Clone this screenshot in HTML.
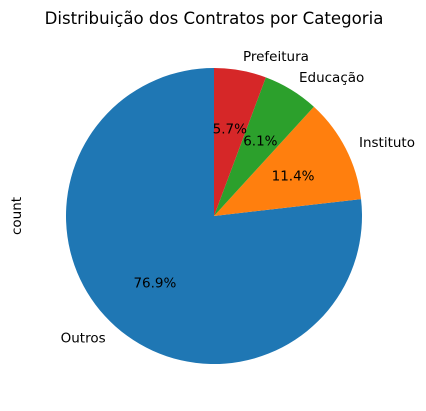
<!DOCTYPE html>
<html><head><meta charset="utf-8"><style>
body{margin:0;background:#fff}
svg{display:block;font-family:"DejaVu Sans","Liberation Sans",sans-serif}
</style></head><body>
<svg id="chart" width="426" height="411" viewBox="0 0 426 411">
<text x="214" y="24" text-anchor="middle" font-size="16.6" fill="#000">Distribuição dos Contratos por Categoria</text>
<text transform="translate(21,216) rotate(-90)" text-anchor="middle" font-size="13.5" fill="#000">count</text>
<g id="slices"></g>
</svg>
<script>
const categories = ["Outros", "Instituto", "Educação", "Prefeitura"];
const values = [76.9, 11.4, 6.1, 5.7];
const pctLabels = ["76.9%", "11.4%", "6.1%", "5.7%"];
const colors = ["#1f77b4", "#ff7f0e", "#2ca02c", "#d62728"];
const cx = 214, cy = 216, r = 148;
const g = document.getElementById('slices');
const ns = 'http://www.w3.org/2000/svg';
const total = values.reduce((a, b) => a + b, 0);
let a0 = 90;
function pt(deg, rad) { const t = deg * Math.PI / 180; return [cx + rad * Math.cos(t), cy - rad * Math.sin(t)]; }
values.forEach((v, i) => {
  const span = v / total * 360, a1 = a0 + span;
  const [x0, y0] = pt(a0, r), [x1, y1] = pt(a1, r);
  const p = document.createElementNS(ns, 'path');
  p.setAttribute('d', `M${cx},${cy} L${x0},${y0} A${r},${r} 0 ${span > 180 ? 1 : 0} 0 ${x1},${y1} Z`);
  p.setAttribute('fill', colors[i]);
  
  
  g.appendChild(p);
  const mid = (a0 + a1) / 2;
  const [lx, ly] = pt(mid, r * 1.1);
  const t = document.createElementNS(ns, 'text');
  t.setAttribute('x', lx); t.setAttribute('y', ly + 5);
  t.setAttribute('text-anchor', Math.cos(mid * Math.PI / 180) > 0 ? 'start' : 'end');
  t.setAttribute('font-size', '13.5');
  t.textContent = categories[i];
  
  
  g.appendChild(t);
  const [px, py] = pt(mid, r * 0.6);
  const q = document.createElementNS(ns, 'text');
  q.setAttribute('x', px); q.setAttribute('y', py + 5);
  q.setAttribute('text-anchor', 'middle');
  q.setAttribute('font-size', '13.5');
  q.textContent = pctLabels[i];
  
  
  g.appendChild(q);
  a0 = a1;
});
</script>
</body></html>
